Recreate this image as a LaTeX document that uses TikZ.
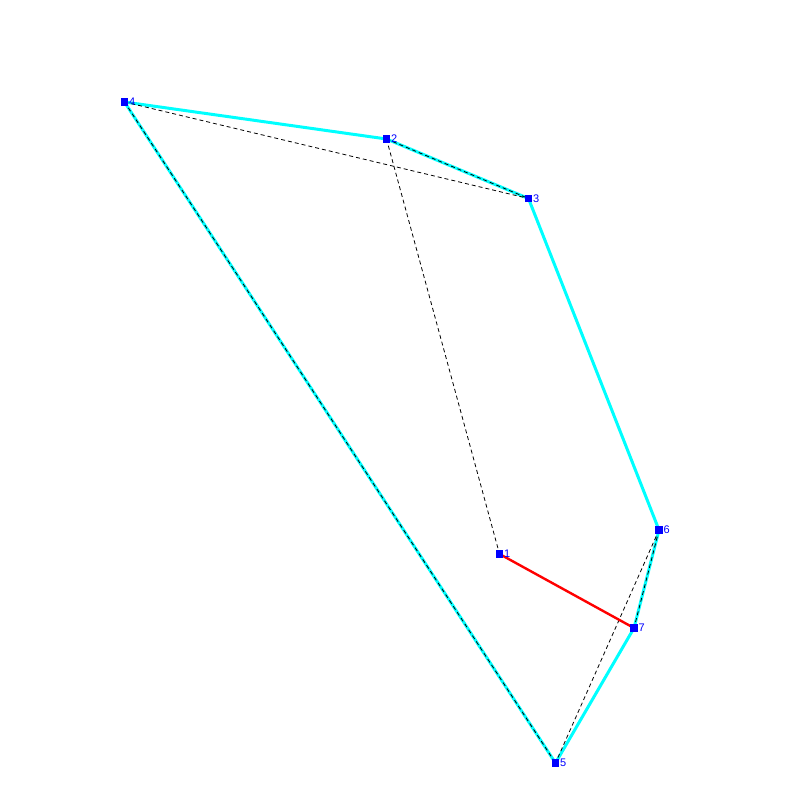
\documentclass[tikz,border=0pt]{standalone}
\usepackage{fontspec}
\setmainfont{Liberation Sans}
\definecolor{cy}{RGB}{0,255,255}
\definecolor{bl}{RGB}{0,0,255}
\definecolor{rd}{RGB}{255,0,0}
\begin{document}
\begin{tikzpicture}[x=1pt,y=-1pt,
  pt/.style={fill=bl,draw=none,minimum size=7.3pt,inner sep=0pt,outer sep=0pt},
  lbl/.style={text=bl,font=\fontsize{11}{11}\selectfont,inner sep=0pt,anchor=west,xshift=0.8pt},
  hull/.style={cy,line width=3pt,line join=round},
  dsh/.style={black,line width=0.8pt,dash pattern=on 4pt off 3pt},
  seg/.style={rd,line width=2.4pt}]
\useasboundingbox (0,0) rectangle (800,800);
\coordinate (p1) at (499.5,554);
\coordinate (p2) at (386.5,139);
\coordinate (p3) at (528.5,198.5);
\coordinate (p4) at (124.5,102);
\coordinate (p5) at (555.5,763);
\coordinate (p6) at (659,530);
\coordinate (p7) at (634,628);
\draw[hull] (p4) -- (p2) -- (p3) -- (p6) -- (p7) -- (p5) -- cycle;
\draw[dsh] (p4) -- (p3);
\draw[dsh] (p2) -- (p3);
\draw[dsh] (p2) -- (p1);
\draw[dsh] (p4) -- (p5);
\draw[dsh] (p6) -- (p5);
\draw[dsh] (p6) -- (p7);
\draw[seg] (p1) -- (p7);
\foreach \i in {1,...,7}{
  \node[pt] (n\i) at (p\i) {};
  \node[lbl] (l\i) at (n\i.east) {\i};
}
\end{tikzpicture}
\end{document}
